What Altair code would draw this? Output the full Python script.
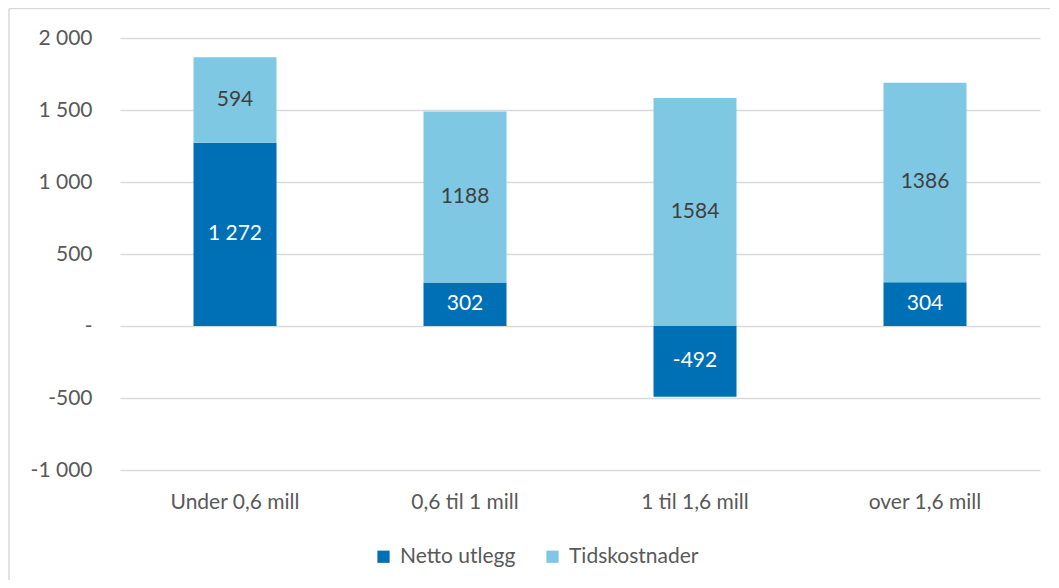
import altair as alt
import pandas as pd

categories = ["Under 0,6 mill", "0,6 til 1 mill", "1 til 1,6 mill", "over 1,6 mill"]
series = ["Netto utlegg", "Tidskostnader"]
netto = [1272, 302, -492, 304]
tid = [594, 1188, 1584, 1386]
netto_labels = ["1 272", "302", "-492", "304"]
tid_labels = ["594", "1188", "1584", "1386"]
tick_values = [-1000, -500, 0, 500, 1000, 1500, 2000]
tick_labels = ["-1 000", "-500", "-", "500", "1 000", "1 500", "2 000"]
colors = ["#0070B6", "#7FC8E4"]
label_colors = ["#FFFFFF", "#404040"]

rows = []
for i, c in enumerate(categories):
    rows.append({"category": c, "series": series[0], "value": netto[i], "label": netto_labels[i], "order": 0})
    rows.append({"category": c, "series": series[1], "value": tid[i], "label": tid_labels[i], "order": 1})
df = pd.DataFrame(rows)

label_expr = "''"
for v, l in zip(tick_values, tick_labels):
    label_expr = f"datum.value == {v} ? '{l}' : ({label_expr})"

FONT = "Lato"
GRAY = "#595959"
FS = 21

base = alt.Chart(df).transform_stack(
    stack="value", groupby=["category"], as_=["v0", "v1"],
    sort=[alt.SortField("order", order="ascending")]
).transform_calculate(mid="(datum.v0 + datum.v1) / 2")

x_enc = alt.X("category:N", sort=categories, title=None,
              scale=alt.Scale(paddingInner=0, paddingOuter=0),
              axis=alt.Axis(labelAngle=0, domain=False, ticks=False, grid=False, labelPadding=21,
                            labelFontSize=FS, labelColor=GRAY, labelFont=FONT))
y_scale = alt.Scale(domain=[-1000, 2000], nice=False, zero=False)

bars = base.mark_bar(size=83).encode(
    x=x_enc,
    y=alt.Y("v0:Q", scale=y_scale, title=None,
            axis=alt.Axis(values=tick_values, labelExpr=label_expr, domain=False, ticks=False,
                          labelPadding=28, labelFontSize=FS, labelColor=GRAY, labelFont=FONT,
                          gridColor="#D9D9D9", gridWidth=1.3)),
    y2="v1:Q",
    color=alt.Color("series:N", scale=alt.Scale(domain=series, range=colors), title=None,
                    legend=alt.Legend(orient="none", direction="horizontal", legendX=253, legendY=508,
                                      symbolType="square", symbolSize=150, symbolStrokeWidth=0,
                                      labelFontSize=FS, labelColor=GRAY, labelFont=FONT,
                                      columnPadding=26, labelOffset=6)),
)

texts = base.mark_text(fontSize=FS, font=FONT).encode(
    x=alt.X("category:N", sort=categories),
    y=alt.Y("mid:Q", scale=y_scale),
    text="label:N",
    color=alt.Color("series:N", scale=alt.Scale(domain=series, range=label_colors), legend=None),
)

frame_top = alt.Chart(pd.DataFrame({"a": [0]})).mark_rule(color="#D9D9D9", strokeWidth=1.5).encode(
    x=alt.value(-111), x2=alt.value(960), y=alt.value(-29.5))
frame_left = alt.Chart(pd.DataFrame({"a": [0]})).mark_rule(color="#D9D9D9", strokeWidth=1.5).encode(
    x=alt.value(-111), y=alt.value(-29.5), y2=alt.value(560))

chart = alt.layer(frame_top, frame_left, bars, texts).resolve_scale(color="independent").properties(
    width=920, height=432,
    padding={"left": 112, "top": 30, "right": 10, "bottom": 110},
    autosize=alt.AutoSizeParams(type="none"),
).configure(font=FONT).configure_view(strokeWidth=0, stroke="transparent")

chart.save("out.html", embed_options={"renderer": "svg", "actions": False})
